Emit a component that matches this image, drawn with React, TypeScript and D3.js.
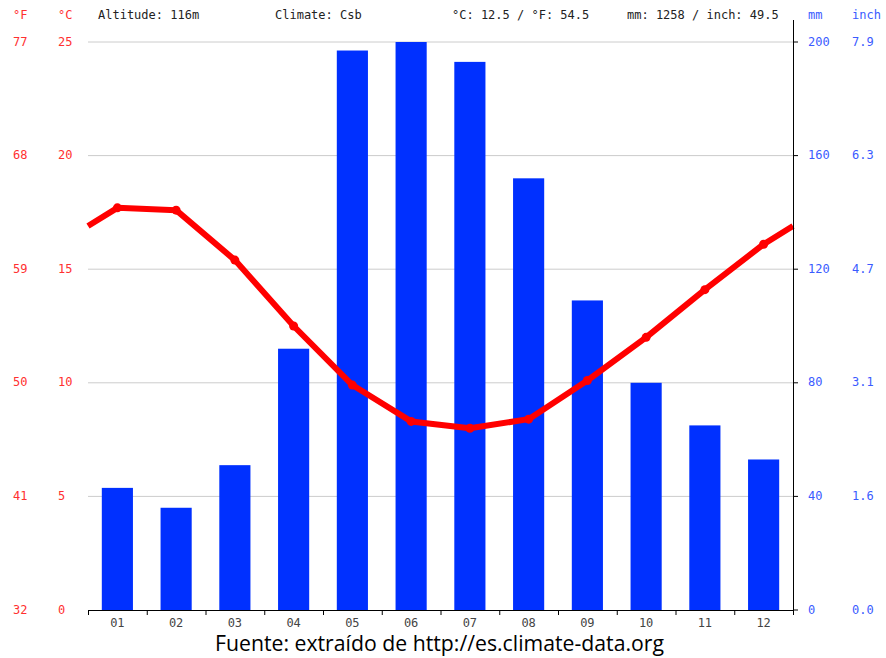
import React from "react";
import * as d3 from "d3";

const months = ["01", "02", "03", "04", "05", "06", "07", "08", "09", "10", "11", "12"];
const precipMm = [43, 36, 51, 92, 197, 200, 193, 152, 109, 80, 65, 53];
const tempC = [17.7, 17.6, 15.4, 12.5, 9.9, 8.3, 8.0, 8.4, 10.1, 12.0, 14.1, 16.1];
const cTicks = [0, 5, 10, 15, 20, 25];
const fTicks = ["32", "41", "50", "59", "68", "77"];
const mmTicks = [0, 40, 80, 120, 160, 200];
const inchTicks = ["0.0", "1.6", "3.1", "4.7", "6.3", "7.9"];
const headerTexts = ["Altitude: 116m", "Climate: Csb", "°C: 12.5 / °F: 54.5", "mm: 1258 / inch: 49.5"];
const headerX = [98, 275, 452, 627];
const sourceText = "Fuente: extraído de http://es.climate-data.org";

const W = 886, H = 658;
const left = 88, right = 793, top = 42, bottom = 610;
const RED = "#ff0000";
const REDTXT = "#ff3030";
const BLUE = "#0030ff";
const BLUETXT = "#3a5bff";
const MONO = "'DejaVu Sans Mono', monospace";

export default function App() {
  const x = d3.scaleBand<string>().domain(months).range([left, right]).paddingInner(0.47).paddingOuter(0.235);
  const xb = d3.scaleBand<string>().domain(months).range([left, right]);
  const yC = d3.scaleLinear().domain([0, 25]).range([bottom, top]);
  const yMm = d3.scaleLinear().domain([0, 200]).range([bottom, top]);
  const center = (m: string) => (xb(m) as number) + xb.bandwidth() / 2;

  const pts: [number, number][] = tempC.map((t, i) => [center(months[i]), yC(t)]);
  const edge = (tempC[0] + tempC[11]) / 2;
  const linePts: [number, number][] = [[left, yC(edge)], ...pts, [right, yC(edge)]];
  const line = d3.line();

  return (
    <svg width={W} height={H} style={{ position: "absolute", left: 0, top: 0, background: "#fff" }}>
      {/* grid */}
      {cTicks.slice(1).map((t) => (
        <line key={t} x1={left} x2={right} y1={yC(t)} y2={yC(t)} stroke="#cccccc" strokeWidth={1} />
      ))}
      {/* bars */}
      {precipMm.map((v, i) => (
        <rect key={i} x={x(months[i])} width={x.bandwidth()} y={yMm(v)} height={bottom - yMm(v)} fill={BLUE} />
      ))}
      {/* temperature line */}
      <path d={line(linePts) as string} fill="none" stroke={RED} strokeWidth={6} strokeLinejoin="round" />
      {pts.map((p, i) => (
        <circle key={i} cx={p[0]} cy={p[1]} r={4.5} fill={RED} />
      ))}
      {/* bottom axis */}
      <line x1={left} x2={right} y1={bottom + 0.5} y2={bottom + 0.5} stroke="#000" strokeWidth={1} />
      {months.map((m) => (
        <g key={m}>
          <line x1={(xb(m) as number) + 0.5} x2={(xb(m) as number) + 0.5} y1={bottom} y2={bottom + 5} stroke="#000" />
          <text x={center(m)} y={623} fill="#444" fontFamily={MONO} fontSize={12} textAnchor="middle" dominantBaseline="middle">{m}</text>
        </g>
      ))}
      <line x1={right + 0.5} x2={right + 0.5} y1={bottom} y2={bottom + 5} stroke="#000" />
      {/* right axis */}
      <line x1={right + 0.5} x2={right + 0.5} y1={20} y2={bottom} stroke="#000" strokeWidth={1} />
      {mmTicks.map((t, i) => (
        <g key={t}>
          <line x1={right} x2={right + 5} y1={yMm(t)} y2={yMm(t)} stroke="#000" />
          <text x={808} y={yMm(t)} fill={BLUETXT} fontFamily={MONO} fontSize={12} dominantBaseline="middle">{t}</text>
          <text x={852} y={yMm(t)} fill={BLUETXT} fontFamily={MONO} fontSize={12} dominantBaseline="middle">{inchTicks[i]}</text>
        </g>
      ))}
      {/* left axis labels */}
      {cTicks.map((t, i) => (
        <g key={t}>
          <text x={58} y={yC(t)} fill={REDTXT} fontFamily={MONO} fontSize={12} dominantBaseline="middle">{t}</text>
          <text x={13} y={yC(t)} fill={REDTXT} fontFamily={MONO} fontSize={12} dominantBaseline="middle">{fTicks[i]}</text>
        </g>
      ))}
      {/* header */}
      <text x={13} y={15} fill={REDTXT} fontFamily={MONO} fontSize={12} dominantBaseline="middle">°F</text>
      <text x={58} y={15} fill={REDTXT} fontFamily={MONO} fontSize={12} dominantBaseline="middle">°C</text>
      <text x={808} y={15} fill={BLUETXT} fontFamily={MONO} fontSize={12} dominantBaseline="middle">mm</text>
      <text x={852} y={15} fill={BLUETXT} fontFamily={MONO} fontSize={12} dominantBaseline="middle">inch</text>
      {headerTexts.map((t, i) => (
        <text key={t} x={headerX[i]} y={15} fill="#222" fontFamily={MONO} fontSize={12} dominantBaseline="middle">{t}</text>
      ))}
      {/* source */}
      <text x={439.5} y={645} fill="#000" fontFamily="'Open Sans', sans-serif" fontSize={21} textAnchor="middle" dominantBaseline="middle" textLength={449} lengthAdjust="spacingAndGlyphs">{sourceText}</text>
    </svg>
  );
}
